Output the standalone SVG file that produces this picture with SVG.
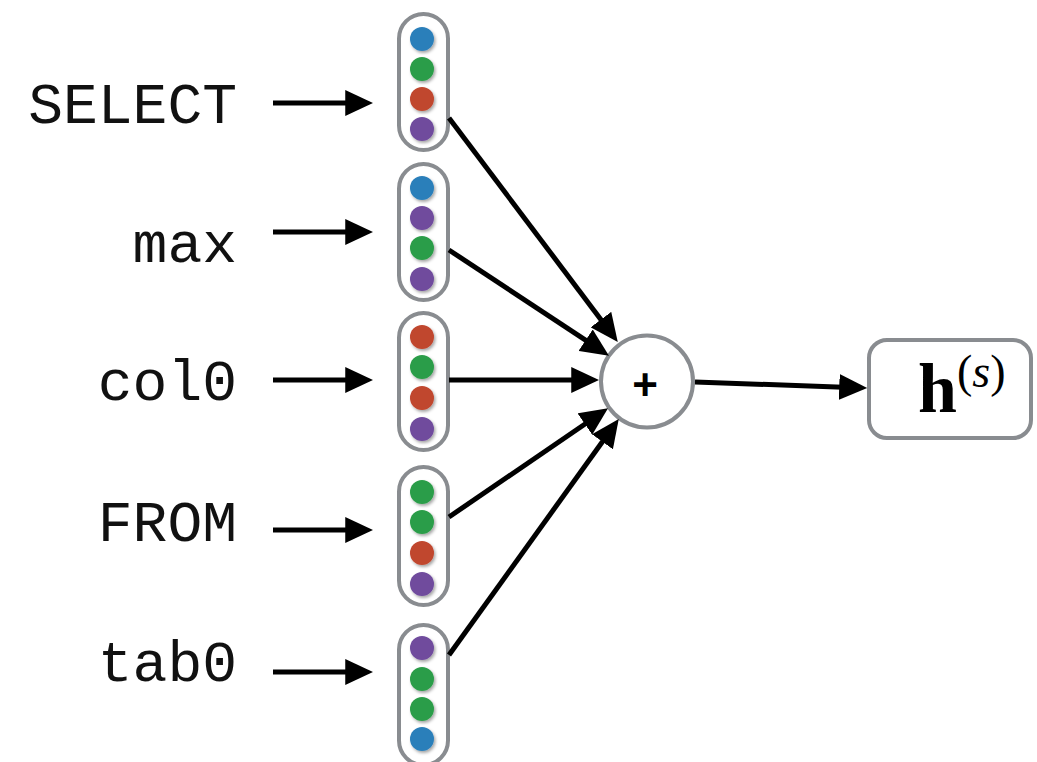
<svg xmlns="http://www.w3.org/2000/svg" width="1037" height="762" viewBox="0 0 1037 762">
  <style>
    .lbl { font-family: "Liberation Mono", "Courier New", monospace; font-size: 58px; fill: #111; text-anchor: end; }
    .cap { fill: #fff; stroke: #898c90; stroke-width: 4; }
    .dot { filter: url(#sh); }
    .b { fill: #2b7fba; }
    .g { fill: #2c9d48; }
    .r { fill: #c0462e; }
    .p { fill: #6f4b9d; }
    .edge { stroke: #000; stroke-width: 5; fill: none; marker-end: url(#ah); }
  </style>
  <defs>
    <marker id="ah" markerUnits="userSpaceOnUse" markerWidth="28" markerHeight="26" viewBox="0 0 26 24" refX="10" refY="12" orient="auto">
      <path d="M0,0 L26,12 L0,24 z" fill="#000"/>
    </marker>
    <filter id="sh" x="-40%" y="-40%" width="190%" height="190%">
      <feDropShadow dx="1.5" dy="2" stdDeviation="1.5" flood-color="#000" flood-opacity="0.35"/>
    </filter>
  </defs>

  <rect width="1037" height="762" fill="#fff"/>

  <!-- token labels -->
  <g id="label-select"><text class="lbl" x="237" y="123">SELECT</text></g>
  <g id="label-max"><text class="lbl" x="237" y="262">max</text></g>
  <g id="label-col0"><text class="lbl" x="237" y="400">col0</text></g>
  <g id="label-from"><text class="lbl" x="237" y="541">FROM</text></g>
  <g id="label-tab0"><text class="lbl" x="237" y="681">tab0</text></g>

  <!-- embedding vectors -->
  <g id="vec-select">
    <rect class="cap" x="399" y="14" width="49" height="136" rx="24.5"/>
    <circle class="dot b" cx="422" cy="39" r="12"/>
    <circle class="dot g" cx="422" cy="69" r="12"/>
    <circle class="dot r" cx="422" cy="99" r="12"/>
    <circle class="dot p" cx="422" cy="129" r="12"/>
  </g>
  <g id="vec-max">
    <rect class="cap" x="399" y="164" width="49" height="136" rx="24.5"/>
    <circle class="dot b" cx="422" cy="188" r="12"/>
    <circle class="dot p" cx="422" cy="218" r="12"/>
    <circle class="dot g" cx="422" cy="248" r="12"/>
    <circle class="dot p" cx="422" cy="279" r="12"/>
  </g>
  <g id="vec-col0">
    <rect class="cap" x="399" y="313" width="49" height="137" rx="24.5"/>
    <circle class="dot r" cx="422" cy="337" r="12"/>
    <circle class="dot g" cx="422" cy="367" r="12"/>
    <circle class="dot r" cx="422" cy="398" r="12"/>
    <circle class="dot p" cx="422" cy="429" r="12"/>
  </g>
  <g id="vec-from">
    <rect class="cap" x="399" y="467" width="49" height="138" rx="24.5"/>
    <circle class="dot g" cx="422" cy="492" r="12"/>
    <circle class="dot g" cx="422" cy="522" r="12"/>
    <circle class="dot r" cx="422" cy="553" r="12"/>
    <circle class="dot p" cx="422" cy="584" r="12"/>
  </g>
  <g id="vec-tab0">
    <rect class="cap" x="399" y="625" width="49" height="140" rx="24.5"/>
    <circle class="dot p" cx="422" cy="648" r="12"/>
    <circle class="dot g" cx="422" cy="679" r="12"/>
    <circle class="dot g" cx="422" cy="709" r="12"/>
    <circle class="dot b" cx="422" cy="739" r="12"/>
  </g>

  <!-- sum node -->
  <g id="sum">
    <circle cx="647" cy="381.5" r="46" fill="#fff" stroke="#898c90" stroke-width="4"/>
    <text x="645" y="400" font-family="Liberation Sans, Arial, sans-serif" font-weight="bold" font-size="44" text-anchor="middle" fill="#000">+</text>
  </g>

  <!-- output -->
  <g id="output">
    <rect x="869" y="340" width="162" height="98" rx="18" fill="#fff" stroke="#898c90" stroke-width="4"/>
    <text x="918" y="412" font-family="Liberation Serif, Times New Roman, serif" fill="#000"><tspan font-size="70" font-weight="bold">h</tspan><tspan font-size="46" dy="-25">(</tspan><tspan font-size="46" font-style="italic">s</tspan><tspan font-size="46">)</tspan></text>
  </g>

  <!-- connectors -->
  <g id="connectors">
    <line class="edge" x1="273" y1="103" x2="356" y2="103"/>
    <line class="edge" x1="273" y1="232" x2="356" y2="232"/>
    <line class="edge" x1="273" y1="380" x2="356" y2="380"/>
    <line class="edge" x1="273" y1="530" x2="356" y2="530"/>
    <line class="edge" x1="273" y1="672" x2="356" y2="672"/>

    <line class="edge" x1="449" y1="118" x2="607.4" y2="328.2"/>
    <line class="edge" x1="449" y1="250" x2="594.6" y2="346.2"/>
    <line class="edge" x1="449" y1="380" x2="582" y2="380"/>
    <line class="edge" x1="449" y1="517" x2="593.8" y2="418"/>
    <line class="edge" x1="449" y1="655" x2="608.7" y2="433"/>

    <line class="edge" x1="695" y1="382" x2="850" y2="387.4"/>
  </g>
</svg>
